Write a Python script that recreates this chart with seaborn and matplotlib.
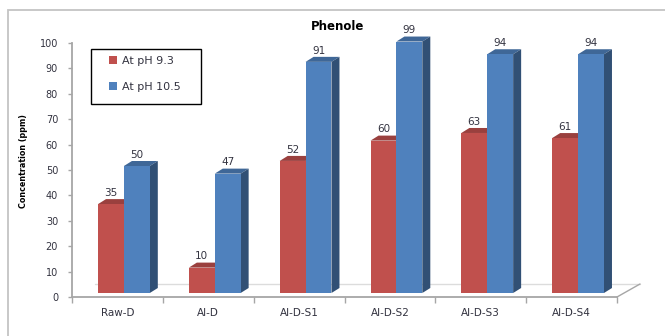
import matplotlib
matplotlib.use("Agg")
import matplotlib.pyplot as plt
from matplotlib.patches import Polygon, Rectangle
from matplotlib.lines import Line2D
from matplotlib.transforms import ScaledTranslation
import numpy as np
import pandas as pd
import seaborn as sns

# Phenol concentration per sample at two pH levels
samples = ["Raw-D", "Al-D", "Al-D-S1", "Al-D-S2", "Al-D-S3", "Al-D-S4"]
series_names = ["At pH 9.3", "At pH 10.5"]
ph_93 = [35, 10, 52, 60, 63, 61]
ph_105 = [50, 47, 91, 99, 94, 94]
y_ticks = list(range(0, 101, 10))

RED = "#C0504D"
BLUE = "#4F81BD"
TEXT = "#333340"
AXIS = "#A6A6A6"

df = pd.DataFrame({
    "sample": samples * 2,
    "condition": [series_names[0]] * len(samples) + [series_names[1]] * len(samples),
    "conc": ph_93 + ph_105,
})

sns.set_theme(style="white")
plt.rcParams["font.family"] = ["DejaVu Sans"]

W, H = 665, 336
fig = plt.figure(figsize=(W / 100, H / 100), dpi=100)
ax_l, ax_b, ax_w, ax_h = 72, 39, 545, 254
ax = fig.add_axes([ax_l / W, ax_b / H, ax_w / W, ax_h / H])

sns.barplot(data=df, x="sample", y="conc", hue="condition",
            order=samples, hue_order=series_names,
            palette=[RED, BLUE], saturation=1, width=0.57,
            errorbar=None, linewidth=0, legend=False, ax=ax)

ax.set_xlim(-0.5, len(samples) - 0.5)
ax.set_ylim(0, 100)

# pseudo-3D: shift the front faces and add top / side faces
shift = ax.transData + ScaledTranslation(0.065, 0.04, fig.dpi_scale_trans)
px_x = ax_w / len(samples)
px_y = ax_h / 100.0
DX, DY = 8 / px_x, 5 / px_y


def shade(c, f):
    r, g, b = matplotlib.colors.to_rgb(c)
    return (r * f, g * f, b * f)


values = [ph_93, ph_105]
for k, (cont, col) in enumerate(zip(ax.containers, [RED, BLUE])):
    for i, p in enumerate(cont.patches):
        p.set_transform(shift)
        p.set_clip_on(False)
        p.set_zorder(3)
        x0, w, h = p.get_x(), p.get_width(), p.get_height()
        top = Polygon([(x0, h), (x0 + w, h), (x0 + w + DX, h + DY), (x0 + DX, h + DY)],
                      closed=True, facecolor=shade(col, 0.8), edgecolor="none",
                      transform=shift, clip_on=False, zorder=2)
        side = Polygon([(x0 + w, 0), (x0 + w + DX, DY), (x0 + w + DX, h + DY), (x0 + w, h)],
                       closed=True, facecolor=shade(col, 0.62), edgecolor="none",
                       transform=shift, clip_on=False, zorder=2)
        ax.add_patch(top)
        ax.add_patch(side)
        ax.annotate(str(values[k][i]), xy=(x0 + w / 2, h), xycoords=shift,
                    xytext=(0, 4.5), textcoords="offset points",
                    ha="center", va="bottom", fontsize=7.5, color=TEXT,
                    annotation_clip=False, zorder=4)

# axes styling
for s in ["top", "right"]:
    ax.spines[s].set_visible(False)
for s in ["left", "bottom"]:
    ax.spines[s].set_color(AXIS)
    ax.spines[s].set_linewidth(1.3)

ax.set_yticks(y_ticks)
ax.set_yticklabels([str(t) for t in y_ticks])
ax.tick_params(axis="y", direction="out", length=3, width=1, color=AXIS,
               pad=7, labelsize=7, labelcolor=TEXT, left=True)
ax.set_xticks(range(len(samples)))
ax.set_xticklabels(samples)
ax.tick_params(axis="x", length=0, pad=8, labelsize=7.5, labelcolor=TEXT)
ax.set_xticks(np.arange(-0.5, len(samples), 1.0), minor=True)
ax.tick_params(axis="x", which="minor", direction="out", length=4, width=1,
               color=AXIS, bottom=True)
ax.set_xlabel("")
ax.set_ylabel("")
ax.grid(False)

# floor edges
fx, fy = 23 / ax_w, 13 / ax_h
ax.add_line(Line2D([1, 1 + fx], [0, fy], transform=ax.transAxes, color=AXIS,
                   lw=1.0, clip_on=False))
ax.add_line(Line2D([fx, 1 + fx], [fy, fy], transform=ax.transAxes, color="#DCDCDC",
                   lw=1.0, clip_on=False, zorder=1))

# titles
fig.text(338 / W, 1 - 26 / H, "Phenole", ha="center", va="center",
         fontsize=8.5, fontweight="bold", color="black")
fig.text(24 / W, 1 - 161 / H, "Concentration (ppm)", rotation=90,
         ha="center", va="center", fontsize=5.8, fontweight="bold", color="black")

# legend
handles = [Rectangle((0, 0), 1, 1, facecolor=RED, edgecolor="none"),
           Rectangle((0, 0), 1, 1, facecolor=BLUE, edgecolor="none")]
fig.legend(handles, series_names, loc="upper left",
           bbox_to_anchor=(109 / W, 1 - 56 / H), frameon=False,
           fontsize=8, labelcolor=TEXT, handlelength=0.7, handleheight=0.7,
           handletextpad=0.5, labelspacing=1.4, borderpad=0, borderaxespad=0)
fig.add_artist(Rectangle((91 / W, 1 - 104 / H), 110 / W, 55 / H,
                         transform=fig.transFigure, fill=False,
                         edgecolor="black", lw=1.0))

# outer chart frame
fig.add_artist(Rectangle((8 / W, -0.05), 1.0, (H - 10) / H + 0.05,
                         transform=fig.transFigure, fill=False,
                         edgecolor="#C4C4C4", lw=1.3, clip_on=False))

fig.savefig("out.png", dpi=100)
